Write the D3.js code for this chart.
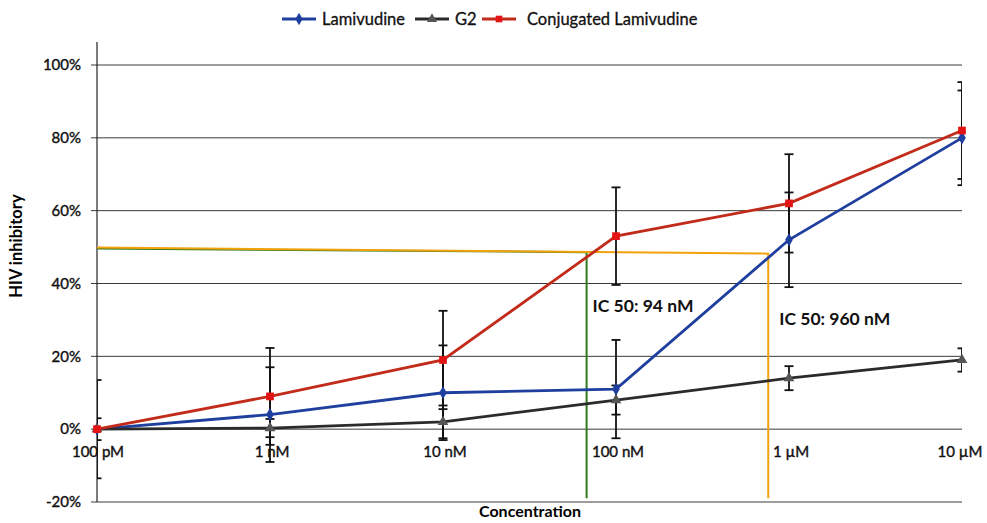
<!DOCTYPE html>
<html>
<head>
<meta charset="utf-8">
<script src="https://cdn.jsdelivr.net/npm/d3@7"></script>
<style>
  body { margin: 0; background: #fff; }
  svg { font-family: Lato, "Open Sans", sans-serif; }
</style>
</head>
<body>
<div id="chart"></div>
<script>
// data
const concentrations = ["100 pM", "1 nM", "10 nM", "100 nM", "1 µM", "10 µM"];
const lamivudine = [0, 4, 10, 11, 52, 80];
const lamivudineErr = [3, 13, 13, 13.5, 13, 13];
const g2 = [0, 0.3, 2, 8, 14, 19];
const g2Err = [0, 2.5, 4.5, 4, 3.3, 3.2];
const conjugated = [0, 9, 19, 53, 62, 82];
const conjugatedErr = [13.5, 13.3, 13.5, 13.4, 13.5, 13.3];
const yTicks = [-20, 0, 20, 40, 60, 80, 100];
// IC50 guide lines: x in category index units, y start/end in %
const icLines = [
  { label: "IC 50: 94 nM", x: 2.83, y0: 49.6, y1: 48.6, color: "#2f7a1c" },
  { label: "IC 50: 960 nM", x: 3.88, y0: 49.9, y1: 48.2, color: "#f2a20c" }
];

const width = 987, height = 523;
const mLeft = 97, mRight = 962, mTop = 65, mBottom = 502;

const svg = d3.select("#chart").append("svg")
  .attr("width", width)
  .attr("height", height);

const x = d3.scalePoint().domain(concentrations).range([mLeft, mRight]);
const xi = d3.scaleLinear().domain([0, concentrations.length - 1]).range([mLeft, mRight]);
const y = d3.scaleLinear().domain([-20, 100]).range([mBottom, mTop]);

svg.append("defs").append("clipPath").attr("id", "plotclip")
  .append("rect").attr("x", mLeft).attr("y", 0).attr("width", mRight - mLeft).attr("height", height);

// gridlines
svg.append("g")
  .selectAll("line")
  .data(yTicks)
  .join("line")
  .attr("x1", mLeft - 6)
  .attr("x2", mRight)
  .attr("y1", d => y(d))
  .attr("y2", d => y(d))
  .attr("stroke", "#3a3a3a")
  .attr("stroke-width", 1);

// y axis line
svg.append("line")
  .attr("x1", mLeft).attr("x2", mLeft)
  .attr("y1", 42).attr("y2", mBottom)
  .attr("stroke", "#222").attr("stroke-width", 1.2);

// y tick labels
svg.append("g")
  .attr("font-size", 15)
  .attr("text-anchor", "end")
  .attr("stroke", "#111").attr("stroke-width", 0.4)
  .selectAll("text")
  .data(yTicks)
  .join("text")
  .attr("x", mLeft - 16)
  .attr("y", d => y(d))
  .attr("dy", "0.35em")
  .attr("fill", "#111")
  .text(d => d + "%");

// x category labels
svg.append("g")
  .attr("font-size", 15)
  .attr("text-anchor", "middle")
  .attr("stroke", "#111").attr("stroke-width", 0.4)
  .selectAll("text")
  .data(concentrations)
  .join("text")
  .attr("x", (d, i) => x(d) + (i === 0 ? 1 : i === concentrations.length - 1 ? -2 : 2))
  .attr("y", 457)
  .attr("fill", "#111")
  .text(d => d);

// axis titles
svg.append("text")
  .attr("transform", "translate(22,246) rotate(-90)")
  .attr("text-anchor", "middle")
  .attr("font-size", 16.5)
  .attr("font-weight", "bold")
  .text("HIV inhibitory");

svg.append("text")
  .attr("x", 530)
  .attr("y", 517)
  .attr("text-anchor", "middle")
  .attr("font-size", 16)
  .attr("font-weight", "bold")
  .text("Concentration");

// IC50 guide lines
const ic = svg.append("g");
icLines.forEach(d => {
  ic.append("path")
    .attr("fill", "none")
    .attr("stroke", d.color)
    .attr("stroke-width", 2)
    .attr("d", d3.line()([[mLeft, y(d.y0)], [xi(d.x), y(d.y1)], [xi(d.x), y(-19)]]));
});

// error bars
const series = [
  { name: "Lamivudine", values: lamivudine, err: lamivudineErr, line: "#1f3f9f", fill: "#1f3f9f", shape: d3.symbolDiamond },
  { name: "G2", values: g2, err: g2Err, line: "#2b2b2b", fill: "#555", shape: d3.symbolTriangle },
  { name: "Conjugated Lamivudine", values: conjugated, err: conjugatedErr, line: "#c22a1a", fill: "#e31414", shape: d3.symbolSquare }
];

const eb = svg.append("g")
  .attr("clip-path", "url(#plotclip)")
  .attr("stroke", "#111")
  .attr("stroke-width", 1.8);

series.forEach(s => {
  s.values.forEach((v, i) => {
    const e = s.err[i];
    if (!e) return;
    const cx = x(concentrations[i]);
    eb.append("line").attr("x1", cx).attr("x2", cx).attr("y1", y(v + e)).attr("y2", y(v - e));
    [v + e, v - e].forEach(t => {
      eb.append("line").attr("x1", cx - 4.5).attr("x2", cx + 4.5).attr("y1", y(t)).attr("y2", y(t));
    });
  });
});

// series lines and markers
const line = d3.line().x((d, i) => x(concentrations[i])).y(d => y(d));

series.forEach(s => {
  svg.append("path")
    .datum(s.values)
    .attr("fill", "none")
    .attr("stroke", s.line)
    .attr("stroke-width", 2.8)
    .attr("d", line);
});

series.forEach(s => {
  svg.append("g")
    .selectAll("path")
    .data(s.values)
    .join("path")
    .attr("transform", (d, i) => `translate(${x(concentrations[i])},${y(d)})`)
    .attr("fill", s.fill)
    .attr("d", d3.symbol().type(s.shape).size(s.shape === d3.symbolSquare ? 60 : 50));
});

// IC50 labels
svg.append("g")
  .attr("font-size", 17.5)
  .attr("font-weight", "bold")
  .selectAll("text")
  .data(icLines)
  .join("text")
  .attr("x", d => xi(d.x) + (d.x < 3 ? 6 : 11))
  .attr("y", (d, i) => i ? 325 : 312)
  .attr("fill", "#111")
  .text(d => d.label);

// legend
const legendX = [282, 415, 482];
const legend = svg.append("g")
  .attr("font-size", 16.5)
  .attr("stroke", "#111").attr("stroke-width", 0.3);
series.forEach((s, i) => {
  const g = legend.append("g").attr("transform", `translate(${legendX[i]},19)`);
  g.append("line").attr("x1", 0).attr("x2", 34).attr("stroke", s.line).attr("stroke-width", 2.8);
  g.append("path").attr("transform", "translate(17,0)").attr("fill", s.fill).attr("stroke", "none")
    .attr("d", d3.symbol().type(s.shape).size(44));
  g.append("text").attr("x", i === 2 ? 45 : 40).attr("dy", "0.35em").attr("fill", "#111").text(s.name);
});
</script>
</body>
</html>
